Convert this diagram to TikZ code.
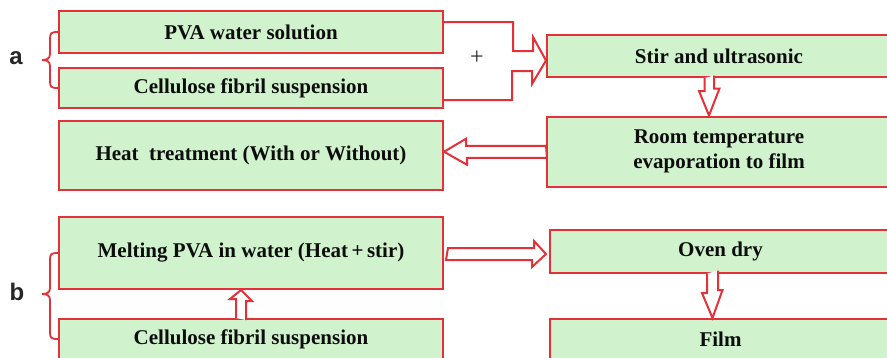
\documentclass[tikz,border=0pt]{standalone}
\usepackage{fontspec}
\setmainfont{Liberation Serif}
\newfontfamily\labelfont{Liberation Sans}
\usetikzlibrary{calc}
\definecolor{boxred}{RGB}{228,48,56}
\definecolor{boxgreen}{RGB}{208,243,205}
\tikzset{
  stepbox/.style={draw=boxred, fill=boxgreen, line width=2pt, inner sep=0pt,
    align=center, font=\fontsize{21}{25}\selectfont\bfseries, text=black!95},
  hollow/.style={draw=boxred, fill=white, line width=2pt, line join=miter},
  brace/.style={draw=boxred, line width=1.8pt},
  panel/.style={font=\fontsize{24}{28}\selectfont\labelfont\bfseries, text=black!85}
}
\begin{document}
\begin{tikzpicture}[x=1pt,y=-1pt]
\useasboundingbox (0,0) rectangle (887,357);
\clip (0,0) rectangle (887,357);

% panel a
\node[stepbox, minimum width=384pt, minimum height=42pt] (pva) at (251,32) {PVA water solution};
\node[stepbox, minimum width=384pt, minimum height=40pt] (cfa) at (251,88) {Cellulose fibril suspension};
\node[stepbox, minimum width=344pt, minimum height=42pt] (stir) at (719,56) {Stir and ultrasonic};
\node[stepbox, minimum width=344pt, minimum height=70.5pt] (room) at (719,151.75) {Room temperature\\evaporation to film};
\node[stepbox, minimum width=384pt, minimum height=69pt] (heat) at (251,155.5) {Heat\ \ treatment (With or Without)};

% panel b
\node[stepbox, minimum width=384pt, minimum height=72pt] (melt) at (251,253) {Melting PVA in water (Heat\,+\,stir)};
\node[stepbox, minimum width=384pt, minimum height=40pt] (cfb) at (251,339) {Cellulose fibril suspension};
\node[stepbox, minimum width=341pt, minimum height=42.5pt] (oven) at (720.5,251.25) {Oven dry};
\node[stepbox, minimum width=341pt, minimum height=40pt] (film) at (720.5,339) {Film};

% joining arrow from the two solutions to stirring
\coordinate (jtip) at ($(stir.west)+(0,4.5)$);
\draw[hollow] ($(pva.east)+(0,-10)$) -- ++(69,0) -- ++(0,29) -- ++(20,0) -- ++(0,-14)
  -- (jtip) -- ++(-14,23.5) -- ++(0,-13) -- ++(-20,0) -- ++(0,29) -- ($(cfa.east)+(0,12)$);
\node[font=\fontsize{24}{24}\selectfont, text=black!85] (plus) at (477,58) {+};

% stir -> room temperature
\coordinate (s1) at ($(stir.south)+(-14.5,0)$);
\draw[hollow] (s1) -- ++(0,13) -- ++(-5.5,0) -- ($(room.north)+(-10,0)$) -- ++(10.5,-27)
  -- ++(-5.5,0) -- ++(0,-13);

% room temperature -> heat treatment
\coordinate (h1) at (room.west);
\draw[hollow] ($(h1)+(0,-6)$) -- ++(-80,0) -- ++(0,-7) -- (heat.east |- h1) -- ++(23,13)
  -- ++(0,-7) -- ++(80,0) -- cycle;

% melting -> oven dry
\coordinate (m1) at ($(melt.east)+(4,1)$);
\draw[hollow] ($(m1)+(0,-6)$) -- ++(86,0) -- ++(0,-7) -- ($(oven.west |- m1)+(-3,0)$) -- ++(-14,13)
  -- ++(0,-7) -- ++(-86,0) -- cycle;

% cellulose suspension -> melting
\coordinate (u1) at ($(cfb.north)+(-15,0)$);
\draw[hollow] (u1) -- ++(0,-19) -- ++(-6,0) -- ($(melt.south)+(-10,0)$) -- ++(11,11)
  -- ++(-6,0) -- ++(0,19);

% oven dry -> film
\coordinate (d1) at ($(oven.south)+(-13.5,0)$);
\draw[hollow] (d1) -- ++(0,19.5) -- ++(-5,0) -- ($(film.north)+(-8,0)$) -- ++(10,-28)
  -- ++(-4.5,0) -- ++(0,-19.5);

% braces and panel letters
\coordinate (atip) at (42,60);
\draw[brace] (pva.west) .. controls (51,32) and (50,33) .. (50,39) -- (50,54)
  .. controls (50,58.5) and (47,60) .. (atip) .. controls (47,60) and (50,61.5) .. (50,66)
  -- (50,81) .. controls (50,87) and (51,88) .. (cfa.west);
\node[panel] (la) at (16,58) {a};

\coordinate (btip) at (42,294);
\draw[brace] (melt.west) .. controls (51,253) and (50,254) .. (50,260) -- (50,288)
  .. controls (50,292.5) and (47,294) .. (btip) .. controls (47,294) and (50,295.5) .. (50,300)
  -- (50,332) .. controls (50,338) and (51,339) .. (cfb.west);
\node[panel] (lb) at (17,292) {b};
\end{tikzpicture}
\end{document}
